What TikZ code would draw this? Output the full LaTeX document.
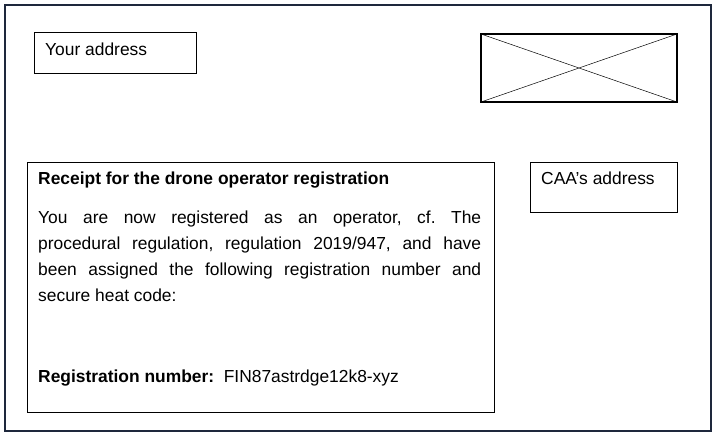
\documentclass[tikz,border=0pt]{standalone}
\usepackage{fontspec}
\setmainfont{Liberation Sans}
\begin{document}
\frenchspacing
\begin{tikzpicture}[x=1pt,y=-1pt,
  box/.style={draw=black,line width=0.8pt},
  txt/.style={inner sep=0pt,anchor=base west,font=\fontsize{17.4}{26}\selectfont}]
\useasboundingbox (0,0) rectangle (716,436);
\draw[line width=1.6pt,draw={rgb,255:red,30;green,40;blue,60}] (5,5) rectangle (711,431);
\draw[box] (34,32) rectangle (196,73);
\node[txt] (ya) at (45,56) {Your address};
\draw[line width=1.8pt] (481,34) rectangle (677,102);
\draw[line width=0.5pt] (481,34) -- (677,102) (481,102) -- (677,34);
\draw[box] (27,162) rectangle (494,412);
\draw[box] (530,162) rectangle (677,212);
\node[txt] (caa) at (541,185) {CAA’s address};
\node[txt] (title) at (38,185) {\bfseries Receipt for the drone operator registration};
\node[inner sep=0pt,anchor=north west,text width=443pt,align=justify,
  font=\fontsize{17.4}{26}\selectfont] (para) at (38,211)
  {You are now registered as an operator, cf. The\linebreak procedural regulation, regulation 2019/947, and have\linebreak been assigned the following registration number and\linebreak secure heat code:};
\node[txt] (reg) at (38,382) {\bfseries Registration number:\ \ \mdseries FIN87astrdge12k8-xyz};
\end{tikzpicture}
\end{document}
